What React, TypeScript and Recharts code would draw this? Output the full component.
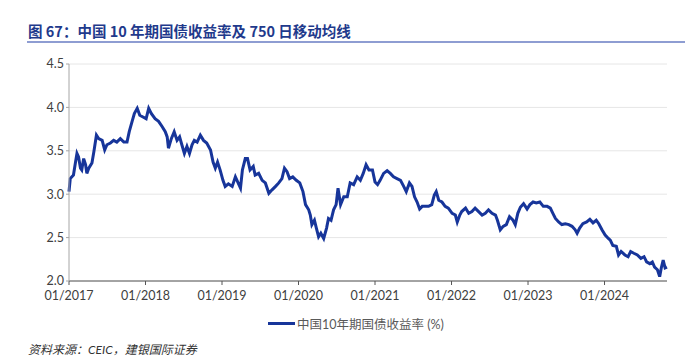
import { LineChart, Line, XAxis, YAxis, CartesianGrid } from 'recharts';

// months since 01/2017
const months = [
  0, 0.2, 0.7, 1, 1.25, 1.5, 1.8, 2, 2.3, 2.6, 2.8, 3.1, 3.6, 3.9, 4.3, 4.65, 5.2, 5.6, 5.95, 6.5,
  7, 7.5, 8.05, 8.6, 9.1, 9.45, 9.9, 10.25, 10.7, 11.1, 11.6, 12.1, 12.5, 12.9, 13.5, 14.05, 14.6, 15.1, 15.4, 15.6,
  16.05, 16.5, 16.95, 17.35, 17.7, 18.1, 18.5, 18.9, 19.3, 19.65, 20.1, 20.6, 21.1, 21.6, 22.2, 22.6, 22.95, 23.3, 23.7, 24.15,
  24.5, 25, 25.6, 26.1, 26.35, 26.9, 27.2, 27.65, 28, 28.4, 28.9, 29.2, 29.75, 30.3, 30.8, 31.35, 31.85, 32.4, 32.9, 33.4,
  33.8, 34.2, 34.6, 35.1, 35.65, 36.2, 36.7, 37.1, 37.6, 37.85, 38.1, 38.5, 38.8, 39.15, 39.5, 39.95, 40.4, 40.7, 41.1, 41.5,
  41.9, 42.2, 42.6, 43.1, 43.65, 44.1, 44.65, 45.2, 45.7, 46.15, 46.6, 47.05, 47.6, 48, 48.4, 48.8, 49.35, 49.9, 50.4, 50.9,
  51.45, 52, 52.5, 52.9, 53.4, 53.8, 54.2, 54.6, 55, 55.4, 55.9, 56.4, 56.9, 57.3, 57.6, 58, 58.5, 59, 59.5, 60.1,
  60.6, 60.9, 61.3, 61.6, 62.2, 62.7, 63.2, 63.7, 64.25, 64.8, 65.3, 65.8, 66.35, 66.9, 67.2, 67.65, 68.1, 68.6, 69.1, 69.65,
  70, 70.4, 70.8, 71.3, 71.85, 72.3, 72.8, 73.3, 73.85, 74.4, 75, 75.5, 75.9, 76.3, 76.8, 77.3, 77.85, 78.4, 78.9, 79.4,
  79.7, 80.1, 80.6, 81.2, 81.7, 82.2, 82.7, 83.1, 83.6, 84.1, 84.6, 84.9, 85.3, 85.85, 86.2, 86.6, 87.2, 87.7, 88.1, 88.6,
  89.15, 89.7, 90.2, 90.6, 91.1, 91.5, 91.85, 92.3, 92.65, 92.9, 93.2, 93.5, 93.8,
];

const yields = [
  3.03, 3.18, 3.22, 3.36, 3.47, 3.43, 3.30, 3.28, 3.41, 3.34, 3.24, 3.30, 3.36, 3.49, 3.68, 3.64, 3.62, 3.51, 3.57, 3.59,
  3.62, 3.60, 3.64, 3.60, 3.60, 3.72, 3.84, 3.93, 3.99, 3.91, 3.89, 3.87, 3.99, 3.93, 3.87, 3.84, 3.78, 3.72, 3.66, 3.53,
  3.64, 3.72, 3.62, 3.66, 3.57, 3.47, 3.55, 3.47, 3.57, 3.62, 3.60, 3.68, 3.62, 3.59, 3.51, 3.37, 3.30, 3.37, 3.28, 3.16,
  3.09, 3.12, 3.09, 3.20, 3.16, 3.07, 3.28, 3.41, 3.41, 3.28, 3.32, 3.22, 3.24, 3.16, 3.13, 3.01, 3.05, 3.09, 3.13, 3.18,
  3.30, 3.26, 3.18, 3.20, 3.16, 3.13, 3.03, 2.88, 2.82, 2.76, 2.65, 2.70, 2.61, 2.51, 2.55, 2.49, 2.61, 2.72, 2.70, 2.82,
  2.88, 3.07, 2.88, 2.97, 2.97, 3.13, 3.11, 3.20, 3.16, 3.24, 3.34, 3.28, 3.28, 3.14, 3.11, 3.16, 3.24, 3.27, 3.24, 3.20,
  3.18, 3.16, 3.09, 3.03, 3.13, 3.09, 2.97, 2.91, 2.83, 2.86, 2.86, 2.86, 2.88, 2.99, 3.03, 2.93, 2.91, 2.86, 2.84, 2.78,
  2.76, 2.68, 2.76, 2.80, 2.84, 2.78, 2.80, 2.84, 2.80, 2.76, 2.78, 2.82, 2.78, 2.76, 2.70, 2.59, 2.63, 2.65, 2.74, 2.70,
  2.65, 2.78, 2.85, 2.89, 2.83, 2.88, 2.91, 2.90, 2.91, 2.86, 2.86, 2.84, 2.78, 2.72, 2.68, 2.65, 2.66, 2.65, 2.63, 2.59,
  2.55, 2.61, 2.66, 2.68, 2.71, 2.67, 2.70, 2.66, 2.59, 2.53, 2.49, 2.47, 2.41, 2.40, 2.30, 2.34, 2.30, 2.28, 2.34, 2.32,
  2.30, 2.26, 2.28, 2.22, 2.20, 2.22, 2.16, 2.13, 2.05, 2.15, 2.24, 2.15, 2.16,
];

const xTicks = [0, 12, 24, 36, 48, 60, 72, 84];
const xTickLabels = ['01/2017', '01/2018', '01/2019', '01/2020', '01/2021', '01/2022', '01/2023', '01/2024'];
const yTicks = [2.0, 2.5, 3.0, 3.5, 4.0, 4.5];

const seriesName = '中国10年期国债收益率 (%)';
const BLUE = '#17359a';

const data = months.map((m, i) => ({ m, v: yields[i] }));

export default function App() {
  return (
    <div style={{ position: 'absolute', left: 0, top: 0, width: 698, height: 357, background: '#fff', fontFamily: 'Lato, "Noto Sans CJK SC", sans-serif' }}>
      {/* title */}
      <div style={{ position: 'absolute', left: 28, top: 20, fontSize: 14.5, fontWeight: 700, color: '#1f3a8c', fontFamily: '"Noto Sans CJK SC", sans-serif', whiteSpace: 'nowrap' }}>
        图 67：中国 10 年期国债收益率及 750 日移动均线
      </div>
      <div style={{ position: 'absolute', left: 27, top: 41, width: 658, height: 2, background: '#8e9dd2' }} />

      <LineChart width={698} height={357} data={data} margin={{ top: 64, right: 31, left: 29, bottom: 46 }} style={{ position: 'absolute', left: 0, top: 0 }}>
        <CartesianGrid horizontal vertical={false} stroke="#e6e6e6" />
        <XAxis
          dataKey="m"
          type="number"
          domain={[0, 93.8]}
          ticks={xTicks}
          tickFormatter={(t: number) => xTickLabels[xTicks.indexOf(t)]}
          height={30}
          stroke="#555"
          tickSize={4}
          tickMargin={6}
          tick={{ fill: '#404040', fontSize: 12.5 }}
          interval={0}
        />
        <YAxis
          type="number"
          domain={[2, 4.5]}
          ticks={yTicks}
          tickFormatter={(t: number) => t.toFixed(1)}
          width={40}
          stroke="#a6a6a6"
          tickSize={3}
          tick={{ fill: '#404040', fontSize: 12.5 }}
          interval={0}
        />
        <Line type="linear" dataKey="v" stroke={BLUE} strokeWidth={3} dot={false} isAnimationActive={false} />
      </LineChart>

      {/* legend */}
      <div style={{ position: 'absolute', left: 268, top: 314, display: 'flex', alignItems: 'center', whiteSpace: 'nowrap' }}>
        <div style={{ width: 27, height: 3, background: BLUE, marginRight: 2 }} />
        <span style={{ fontSize: 12.5, color: '#595959' }}>{seriesName}</span>
      </div>

      {/* source */}
      <div style={{ position: 'absolute', left: 28, top: 343, fontSize: 12, lineHeight: '14px', fontStyle: 'italic', color: '#333', whiteSpace: 'nowrap' }}>
        资料来源：CEIC，建银国际证券
      </div>
    </div>
  );
}
